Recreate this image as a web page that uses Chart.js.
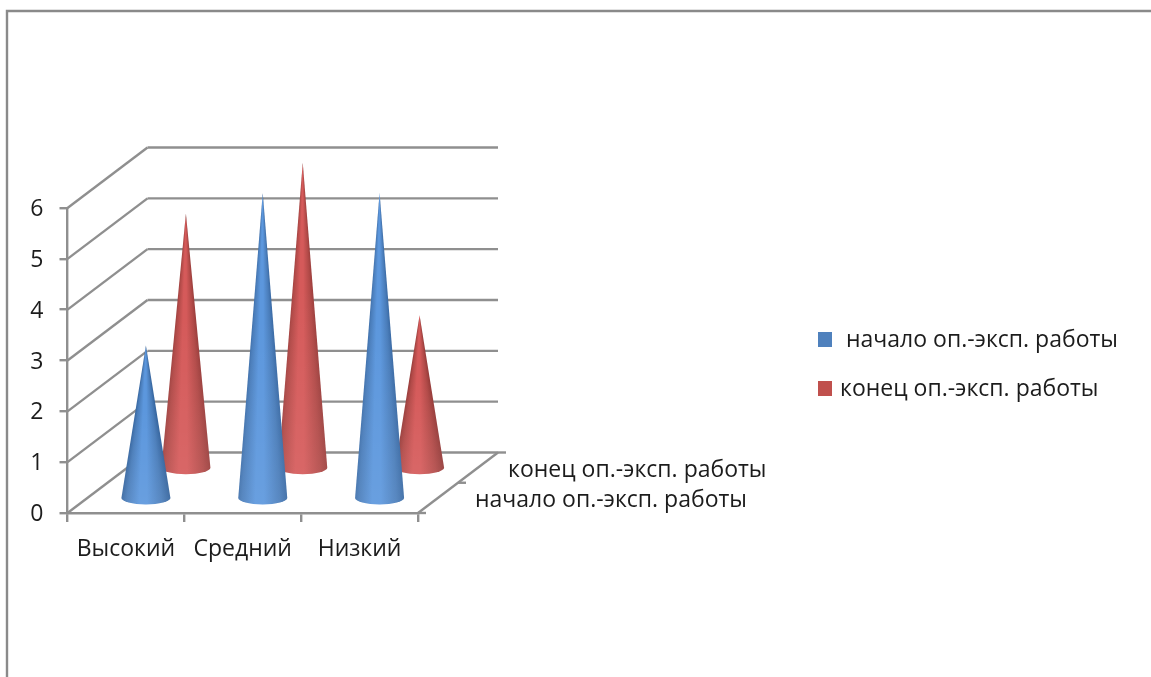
<!DOCTYPE html>
<html>
<head>
<meta charset="utf-8">
<script src="https://cdn.jsdelivr.net/npm/chart.js@4"></script>
<style>
    html, body { margin: 0; padding: 0; background: #fff; overflow: hidden; }
    #wrap { position: absolute; left: 0; top: 0; width: 1151px; height: 677px; }
    #coneChart { filter: blur(0.45px); }
</style>
</head>
<body>
<div id="wrap"><canvas id="coneChart"></canvas></div>
<script>
var categories = ['Высокий', 'Средний', 'Низкий'];
var seriesNames = ['начало оп.-эксп. работы', 'конец оп.-эксп. работы'];
var startValues = [3, 6, 6];
var endValues = [5, 6, 3];
var yTicks = [0, 1, 2, 3, 4, 5, 6];

var FONT = '"Open Sans", sans-serif';
var TEXT = '#1c1c1c';
var LINE = '#8f8f8f';
var DX = 80, DY = -60.5; // depth of the 3d box

var shades = [
    { edge: '#2c5a92', mid: '#4a7dba', light: '#5c97dd', box: '#4f81bd' },
    { edge: '#8a3533', mid: '#b24a48', light: '#d55a5a', box: '#c0504d' }
];

function line(ctx, x1, y1, x2, y2) {
    ctx.beginPath();
    ctx.moveTo(x1, y1);
    ctx.lineTo(x2, y2);
    ctx.stroke();
}

// one cone, standing at depth row d (0 front, 1 back)
function drawCone(chart, index, value, d) {
    var ctx = chart.ctx;
    var xs = chart.scales.x, ys = chart.scales.y;
    var cx = xs.getPixelForValue(index) + DX * (d + 0.5) / 2;
    var offY = DY * (d + 0.5) / 2;
    var baseY = ys.getPixelForValue(0) + offY;
    var tipY = ys.getPixelForValue(value) + offY;
    var rx = 24.5, ry = 6.5;
    var s = shades[d];
    var h = baseY - tipY;
    var a = Math.atan(rx / h);

    ctx.save();
    var g = ctx.createConicGradient(Math.PI / 2 - a - 0.02, cx, tipY);
    var span = (2 * a + 0.04) / (2 * Math.PI);
    g.addColorStop(0, s.edge);
    g.addColorStop(span * 0.22, s.mid);
    g.addColorStop(span * 0.48, s.light);
    g.addColorStop(span * 0.62, s.light);
    g.addColorStop(span * 0.84, s.mid);
    g.addColorStop(span, s.edge);
    g.addColorStop(1, s.edge);

    ctx.beginPath();
    ctx.moveTo(cx, tipY);
    ctx.lineTo(cx + rx, baseY);
    ctx.ellipse(cx, baseY, rx, ry, 0, 0, Math.PI);
    ctx.closePath();
    ctx.fillStyle = g;
    ctx.fill();

    // the lower part of each cone is a little brighter
    var v = ctx.createLinearGradient(0, tipY, 0, baseY + ry);
    v.addColorStop(0.4, 'rgba(255,255,255,0)');
    v.addColorStop(1, 'rgba(255,255,255,0.08)');
    ctx.fillStyle = v;
    ctx.fill();
    ctx.restore();
}

var conePlugin = {
    id: 'cones',
    beforeDatasetsDraw: function(chart) {
        var ctx = chart.ctx, a = chart.chartArea;
        var ys = chart.scales.y;
        ctx.save();

        // page frame
        ctx.strokeStyle = '#8a8a8a';
        ctx.lineWidth = 2.4;
        ctx.beginPath();
        ctx.moveTo(7, 677);
        ctx.lineTo(7, 11);
        ctx.lineTo(1151, 11);
        ctx.stroke();

        // side wall and back wall
        ctx.strokeStyle = LINE;
        ctx.lineWidth = 2.4;
        yTicks.forEach(function(v) {
            var y = ys.getPixelForValue(v);
            line(ctx, a.left, y, a.left + DX, y + DY);
            line(ctx, a.left + DX, y + DY, a.right + DX, y + DY);
        });

        // floor edge with its depth ticks
        line(ctx, a.right, a.bottom, a.right + DX, a.bottom + DY);
        [0, 0.5, 1].forEach(function(t) {
            var x = a.right + DX * t, y = a.bottom + DY * t;
            line(ctx, x, y, x + 8, y);
        });
        ctx.restore();
    },
    afterDatasetsDraw: function(chart) {
        var ctx = chart.ctx;
        // back row first so that the front row covers it
        endValues.forEach(function(v, i) { drawCone(chart, i, v, 1); });
        startValues.forEach(function(v, i) { drawCone(chart, i, v, 0); });

        ctx.save();
        ctx.fillStyle = TEXT;
        ctx.textBaseline = 'middle';
        ctx.textAlign = 'left';
        ctx.font = '23px ' + FONT;

        // depth axis labels
        ctx.fillText(seriesNames[1], 508, 470);
        ctx.fillText(seriesNames[0], 475, 500);

        // legend
        ctx.fillText(seriesNames[0], 846, 340);
        ctx.fillText(seriesNames[1], 840, 389);
        ctx.fillStyle = shades[0].box;
        ctx.fillRect(818, 332, 14, 15);
        ctx.fillStyle = shades[1].box;
        ctx.fillRect(818, 381, 14, 15);
        ctx.restore();
    }
};

var ctx = document.getElementById('coneChart').getContext('2d');
new Chart(ctx, {
    type: 'bar',
    plugins: [conePlugin],
    data: {
        labels: categories,
        datasets: [
            { label: seriesNames[0], data: startValues, backgroundColor: 'rgba(0,0,0,0)' },
            { label: seriesNames[1], data: endValues, backgroundColor: 'rgba(0,0,0,0)' }
        ]
    },
    options: {
        responsive: true,
        maintainAspectRatio: false,
        animation: false,
        layout: { padding: { left: 0, top: 208, right: 733, bottom: 0 } },
        plugins: { legend: { display: false }, title: { display: false }, tooltip: { enabled: false } },
        scales: {
            x: {
                offset: true,
                afterFit: function(scale) { scale.height = 164; },
                grid: { drawOnChartArea: false, color: LINE, lineWidth: 2.4, tickLength: 9 },
                border: { color: LINE, width: 2.4 },
                ticks: { color: TEXT, font: { family: FONT, size: 23 }, padding: 14, maxRotation: 0, autoSkip: false }
            },
            y: {
                min: 0,
                max: 6,
                afterFit: function(scale) { scale.width = 67.5; },
                grid: { drawOnChartArea: false, color: LINE, lineWidth: 2.4, tickLength: 8 },
                border: { color: LINE, width: 2.4 },
                ticks: { color: TEXT, stepSize: 1, font: { family: FONT, size: 23 }, padding: 16, labelOffset: 1.5 }
            }
        }
    }
});
</script>
</body>
</html>
